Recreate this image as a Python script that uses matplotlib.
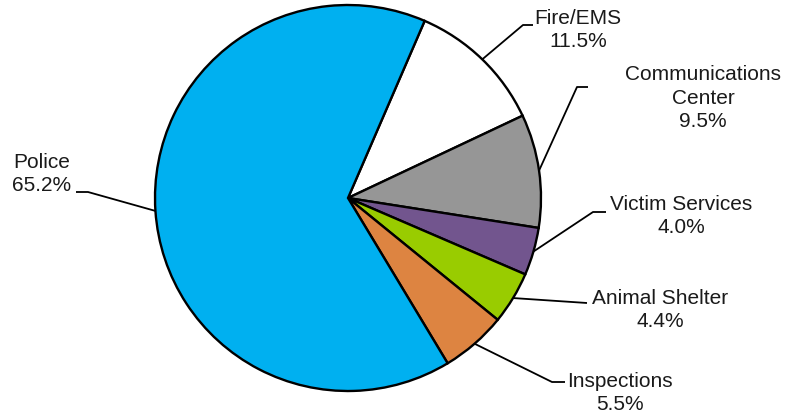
import numpy as np
import matplotlib.pyplot as plt

plt.rcParams['font.family'] = ['Liberation Sans', 'DejaVu Sans']

labels = ['Fire/EMS', 'Communications\nCenter', 'Victim Services', 'Animal Shelter', 'Inspections', 'Police']
shares = [11.5, 9.5, 4.0, 4.4, 5.5, 65.2]
colors = ['#FFFFFF', '#969696', '#72558E', '#99CC00', '#DD8441', '#00B0F0']

# label text anchor (x, y in pixels from top-left) and elbow of leader line
text_pos = [(578, 30), (703, 98), (681, 216), (660, 310), (620, 393), (42, 174)]
elbows = [(523, 25), (577, 87), (593, 212), (587, 303), (552, 382), (88, 192)]
ends = [(533, 25), (588, 87), (606, 212), (587, 303), (565, 382), (76, 192)]

W, H = 792, 416
cx, cy, r = 348, 198, 193

fig = plt.figure(figsize=(W / 100, H / 100), dpi=100)
ax = fig.add_axes([0, 0, 1, 1])

start = 90 - 23.4
wedges, _ = ax.pie(shares, colors=colors, startangle=start, counterclock=False,
                   center=(cx, H - cy), radius=r, frame=True,
                   wedgeprops=dict(edgecolor='black', linewidth=1.7))
ax.set_xlim(0, W)
ax.set_ylim(0, H)
ax.set_aspect('equal')
ax.axis('off')

for w, lab, val, tp, el, en in zip(wedges, labels, shares, text_pos, elbows, ends):
    mid = np.deg2rad((w.theta1 + w.theta2) / 2)
    px = cx + r * np.cos(mid)
    py = (H - cy) + r * np.sin(mid)
    ax.plot([px, el[0], en[0]], [py, H - el[1], H - en[1]], color='black', lw=1.3,
            solid_capstyle='butt')
    ax.text(tp[0], H - tp[1], f'{lab}\n{val:.1f}%', ha='center', va='center',
            fontsize=15, linespacing=1.32, color='#1a1a1a')

fig.savefig('out.png', dpi=100)
